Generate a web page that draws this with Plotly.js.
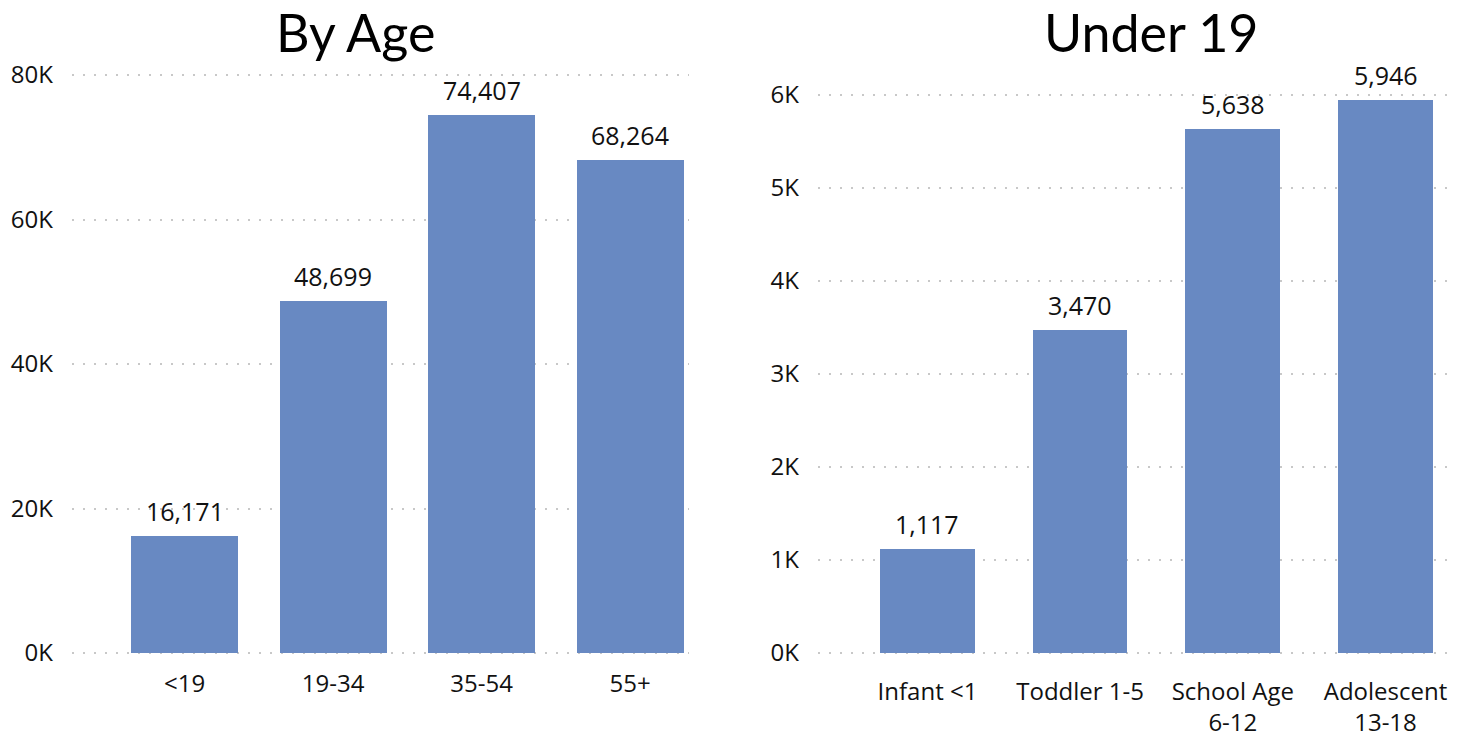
<!DOCTYPE html>
<html><head><meta charset="utf-8">
<script src="https://cdn.plot.ly/plotly-3.0.1.min.js"></script>
<style>html,body{margin:0;padding:0;background:#fff}#chart{width:1471px;height:738px}</style>
</head><body><div id="chart"></div>
<script>
const ageCategories = ['<19', '19-34', '35-54', '55+'];
const ageValues = [16171, 48699, 74407, 68264];
const under19Categories = ['Infant <1', 'Toddler 1-5', 'School Age<br>6-12', 'Adolescent<br>13-18'];
const under19Values = [1117, 3470, 5638, 5946];
const ageTicks = [0, 20000, 40000, 60000, 80000];
const ageTickLabels = ['0K', '20K', '40K', '60K', '80K'];
const u19Ticks = [0, 1000, 2000, 3000, 4000, 5000, 6000];
const u19TickLabels = ['0K', '1K', '2K', '3K', '4K', '5K', '6K'];

const barColor = '#6889c2';
const fmt = v => v.toLocaleString('en-US');
const labelFont = {family: 'Open Sans, sans-serif', size: 25, color: '#111'};
const tickFont = {family: 'Open Sans, sans-serif', size: 24, color: '#111'};

const traces = [
  {type: 'bar', x: ageCategories.map((c, i) => i), y: ageValues, xaxis: 'x', yaxis: 'y',
   marker: {color: barColor}, width: 0.72, hoverinfo: 'none'},
  {type: 'bar', x: under19Categories.map((c, i) => i), y: under19Values, xaxis: 'x2', yaxis: 'y2',
   marker: {color: barColor}, width: 0.62, hoverinfo: 'none'}
];

const gridStyle = {showgrid: true, gridcolor: '#c8c8c8', gridwidth: 2, griddash: '2px,9px',
  zeroline: false, showline: false, ticks: '', tickfont: tickFont};

// pixel mapping helpers for domains (reference: 0 at y=653)
const H = 738, W = 1471;
const leftPx = 578 / 80000, rightPx = 93 / 1000;
const leftLo = -300, leftHi = 80300;
const rightLo = -40, rightHi = 6215;

const valueLabels = [];
ageValues.forEach((v, i) => valueLabels.push({text: fmt(v), x: i, y: v, xref: 'x', yref: 'y',
  xanchor: 'center', yanchor: 'bottom', yshift: 6, showarrow: false, font: labelFont}));
under19Values.forEach((v, i) => valueLabels.push({text: fmt(v), x: i, y: v, xref: 'x2', yref: 'y2',
  xanchor: 'center', yanchor: 'bottom', yshift: 6, showarrow: false, font: labelFont}));

const layout = {
  width: W, height: H, margin: {l: 0, r: 0, t: 0, b: 0},
  paper_bgcolor: '#fff', plot_bgcolor: '#fff', showlegend: false, bargap: 0,
  xaxis: {domain: [72/W, 689/W], range: [-0.758, 3.397], tickvals: [0,1,2,3], ticktext: ageCategories,
    showgrid: false, zeroline: false, showline: false, ticks: '', tickfont: tickFont, ticklabelstandoff: 12, anchor: 'y'},
  yaxis: Object.assign({domain: [(H - (653 - leftLo*leftPx))/H, (H - (653 - leftHi*leftPx))/H], range: [leftLo, leftHi],
    tickvals: ageTicks, ticktext: ageTickLabels, ticklabelstandoff: 18, anchor: 'x'}, gridStyle),
  xaxis2: {domain: [818/W, 1451/W], range: [-0.717, 3.429], tickvals: [0,1,2,3], ticktext: under19Categories,
    showgrid: false, zeroline: false, showline: false, ticks: '', tickfont: tickFont, ticklabelstandoff: 18, anchor: 'y2'},
  yaxis2: Object.assign({domain: [(H - (653 - rightLo*rightPx))/H, (H - (653 - rightHi*rightPx))/H], range: [rightLo, rightHi],
    tickvals: u19Ticks, ticktext: u19TickLabels, ticklabelstandoff: 18, anchor: 'x2'}, gridStyle),
  annotations: valueLabels.concat([
    {text: 'By Age', xref: 'paper', yref: 'paper', x: 355/W, y: 1 - 32/H, xanchor: 'center', yanchor: 'middle',
     showarrow: false, font: {family: 'Lato, sans-serif', size: 52, color: '#000'}},
    {text: 'Under 19', xref: 'paper', yref: 'paper', x: 1151/W, y: 1 - 32/H, xanchor: 'center', yanchor: 'middle',
     showarrow: false, font: {family: 'Lato, sans-serif', size: 52, color: '#000'}}
  ])
};

Plotly.newPlot('chart', traces, layout, {displayModeBar: false, staticPlot: true});
</script></body></html>
